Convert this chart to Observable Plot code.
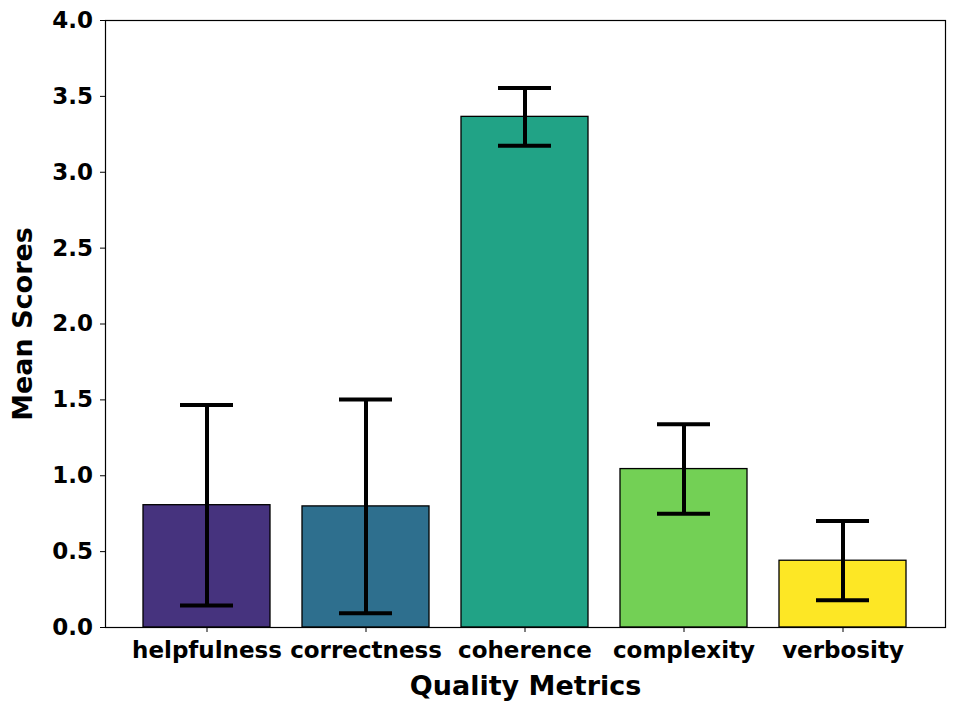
<!DOCTYPE html>
<html>
<head>
<meta charset="utf-8">
<script src="https://cdn.jsdelivr.net/npm/d3@7"></script>
<script src="https://cdn.jsdelivr.net/npm/@observablehq/plot@0.6"></script>
<style>
  html, body { margin: 0; padding: 0; background: #fff; }
  svg { font-family: "DejaVu Sans", sans-serif; font-weight: bold; }
</style>
</head>
<body>
<div id="chart"></div>
<script>
const metrics = ["helpfulness", "correctness", "coherence", "complexity", "verbosity"];
const means = [0.806, 0.798, 3.365, 1.044, 0.440];
const errors = [0.661, 0.704, 0.191, 0.295, 0.261];
const colors = ["#46337e", "#2e6f8e", "#21a386", "#73d055", "#fde725"];
const yTicks = [0, 0.5, 1.0, 1.5, 2.0, 2.5, 3.0, 3.5, 4.0];

const data = metrics.map((m, i) => ({metric: m, mean: means[i], err: errors[i], lo: means[i] - errors[i], hi: means[i] + errors[i]}));

const chart = Plot.plot({
  width: 958,
  height: 714,
  marginLeft: 105,
  marginRight: 13,
  marginTop: 20,
  marginBottom: 87,
  style: {fontSize: "23px", fontFamily: "DejaVu Sans", fontWeight: "bold", color: "#000", background: "#fff"},
  x: {domain: metrics, paddingInner: 0.2, paddingOuter: 0.24},
  y: {domain: [0, 4]},
  color: {domain: metrics, range: colors},
  marks: [
    Plot.barY(data, {x: "metric", y: "mean", fill: "metric", stroke: "#000", strokeWidth: 1.3}),
    Plot.ruleX(data, {x: "metric", y1: "lo", y2: "hi", stroke: "#000", strokeWidth: 4}),
    Plot.tickY(data, {x: "metric", y: "lo", stroke: "#000", strokeWidth: 4, inset: 37}),
    Plot.tickY(data, {x: "metric", y: "hi", stroke: "#000", strokeWidth: 4, inset: 37}),
    Plot.frame({stroke: "#000", strokeWidth: 1.2}),
    Plot.axisY({ticks: yTicks, tickFormat: d3.format(".1f"), tickSize: 5, tickPadding: 7.5, fontSize: 23, label: null}),
    Plot.axisX({tickSize: 5, tickPadding: 9, fontSize: 23, label: null}),
    Plot.text(["Mean Scores"], {frameAnchor: "left", textAnchor: "middle", rotate: -90, dx: -82, fontSize: 27, fontWeight: "bold", fill: "#000"}),
    Plot.text(["Quality Metrics"], {frameAnchor: "bottom", dy: 67, fontSize: 27, fontWeight: "bold", fill: "#000"})
  ]
});
document.getElementById("chart").appendChild(chart);
</script>
</body>
</html>
